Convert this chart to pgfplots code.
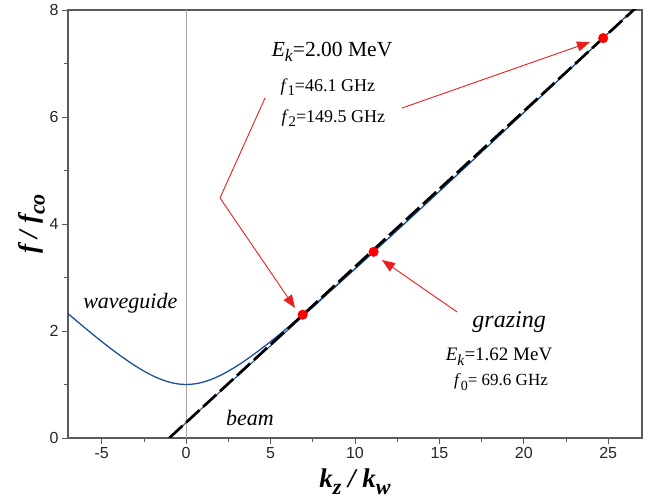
\documentclass[border=0pt]{standalone}
\usepackage{fontspec}
\setmainfont{Liberation Serif}
\newfontfamily\ticksf{Liberation Sans}
\usepackage{pgfplots}
\pgfplotsset{compat=1.18}
\usetikzlibrary{arrows.meta}
\definecolor{wgblue}{RGB}{30,80,150}
\definecolor{framegray}{RGB}{90,90,90}
\definecolor{annred}{RGB}{235,30,30}
\newcommand{\sub}[2][0.82]{\raisebox{-0.55ex}{\scalebox{#1}{#2}}}
\begin{document}
\begin{tikzpicture}
\begin{axis}[
  scale only axis,
  width=574pt, height=428pt,
  xmin=-7, xmax=27, ymin=0, ymax=8,
  xtick={-5,0,5,10,15,20,25},
  ytick={0,2,4,6,8},
  minor xtick={-2.5,2.5,7.5,12.5,17.5,22.5},
  minor ytick={1,3,5,7},
  tick pos=left,
  tick align=outside,
  major tick length=6pt,
  minor tick length=4pt,
  axis line style={framegray, line width=1.1pt},
  every tick/.style={framegray, line width=0.9pt},
  /pgf/number format/assume math mode=true,
  ticklabel style={font=\ticksf\fontsize{16}{16}\selectfont, text=black!85},
  xlabel={\textbf{\textit{k\sub{z} / k\sub{w}}}},
  ylabel={\textbf{\textit{f / f\sub{co}}}},
  label style={font=\fontsize{27}{27}\selectfont},
  xlabel style={at={(axis description cs:0.5,-0.103)}, anchor=center},
  ylabel style={at={(axis description cs:-0.063,0.5)}, anchor=center},
  clip=true,
]
% vertical line at kz=0
\addplot[gray!70, line width=0.6pt] coordinates {(0,0) (0,8)};
% waveguide dispersion
\addplot[wgblue, line width=1.3pt, smooth] coordinates {
(-7,2.3259) (-6.5,2.1915) (-6,2.0591) (-5.5,1.9294) (-5,1.8028) (-4.5,1.6800)
(-4,1.5620) (-3.5,1.4500) (-3,1.3454) (-2.5,1.2500) (-2,1.1662) (-1.5,1.0966)
(-1,1.0440) (-0.5,1.0112) (0,1.0000) (0.5,1.0112) (1,1.0440) (1.5,1.0966)
(2,1.1662) (2.5,1.2500) (3,1.3454) (3.5,1.4500) (4,1.5620) (4.5,1.6800)
(5,1.8028) (5.5,1.9294) (6,2.0591) (6.5,2.1915) (7,2.3259) (8,2.6000)
(9,2.8792) (10,3.1623) (12,3.7363) (14,4.3174) (16,4.9031) (18,5.4918)
(20,6.0828) (22,6.6753) (24,7.2691) (26,7.8638) (27,8.1615)
};
% grazing beam line (thin blue, under the dashes)
\addplot[wgblue, line width=1.1pt] coordinates {(-1,0) (11.1,3.477)};
% 2.00 MeV beam line (dashed black)
\addplot[black, line width=2.7pt, dash pattern=on 18pt off 5pt] coordinates {(-1,0) (27,8.145)};
% red annotation lines
\draw[annred, line width=0.9pt] (axis cs:4.67,6.355) -- (axis cs:2.005,4.486);
\draw[annred, line width=0.9pt, -{Triangle[length=13pt,width=10pt]}] (axis cs:2.005,4.486) -- (axis cs:6.448,2.43);
\draw[annred, line width=0.9pt, -{Triangle[length=13pt,width=10pt]}] (axis cs:12.79,6.168) -- (axis cs:23.92,7.40);
\draw[annred, line width=0.9pt, -{Triangle[length=13pt,width=10pt]}] (axis cs:16.05,2.355) -- (axis cs:11.60,3.327);
% intersection points
\addplot[only marks, mark=*, mark size=4.8pt, color=red, mark options={fill=red, draw=red}] coordinates {(6.9,2.305) (11.1,3.48) (24.7,7.475)};
% texts
\node[font=\fontsize{21.5}{21.5}\selectfont] at (axis cs:8.64,7.215) {\textit{E}\sub{\textit{k}}=2.00 MeV};
\node[anchor=west, font=\fontsize{18}{18}\selectfont] at (axis cs:5.38,6.56) {\textit{f}\sub{1}=46.1 GHz};
\node[anchor=west, font=\fontsize{18}{18}\selectfont] at (axis cs:5.44,5.98) {\textit{f}\sub{2}=149.5 GHz};
\node[font=\fontsize{24}{24}\selectfont\itshape] at (axis cs:19.13,2.16) {grazing};
\node[font=\fontsize{19}{19}\selectfont] at (axis cs:18.53,1.514) {\textit{E}\sub{\textit{k}}=1.62 MeV};
\node[font=\fontsize{17}{17}\selectfont] at (axis cs:18.65,1.047) {\textit{f}\sub{0}= 69.6 GHz};
\node[font=\fontsize{22}{22}\selectfont\itshape] at (axis cs:-3.31,2.52) {waveguide};
\node[font=\fontsize{22}{22}\selectfont\itshape] at (axis cs:3.78,0.374) {beam};
\end{axis}
\path ([shift={(-68pt,-58pt)}]current axis.south west) rectangle ([shift={(9pt,10pt)}]current axis.north east);
\end{tikzpicture}
\end{document}
